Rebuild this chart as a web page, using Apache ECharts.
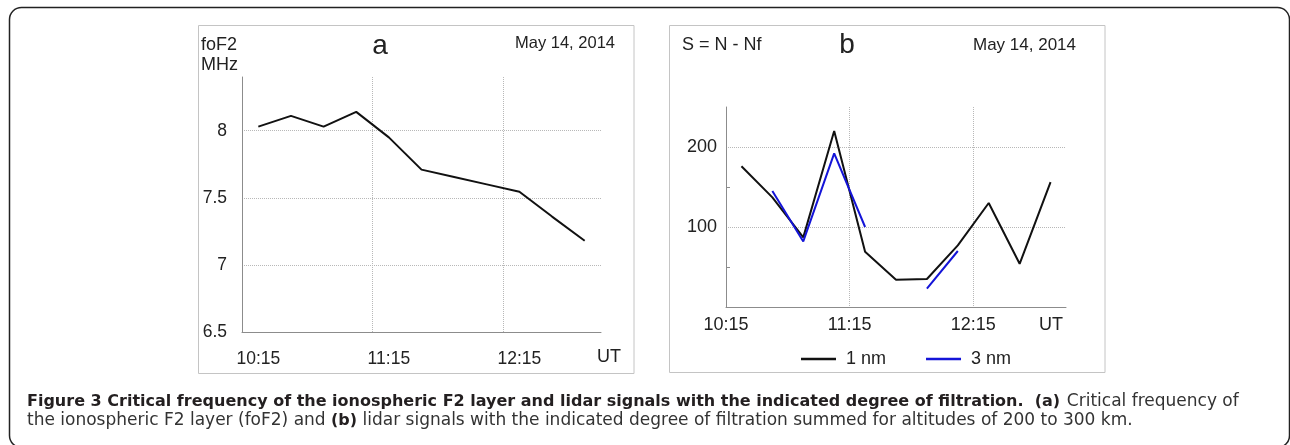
<!DOCTYPE html>
<html>
<head>
<meta charset="utf-8">
<script src="https://cdn.jsdelivr.net/npm/echarts@6/dist/echarts.min.js"></script>
<title>Figure 3</title>
<style>
  html, body { margin: 0; padding: 0; background: #fff; }
  #main { width: 1290px; height: 445px; }
</style>
</head>
<body>
<div id="main"></div>
<script type="text/javascript">
// time points (UT), 15 min apart
var times = ['10:15', '10:30', '10:45', '11:00', '11:15', '11:30', '11:45', '12:00', '12:15', '12:30', '12:45'];
// panel a: critical frequency foF2, MHz
var foF2 = [8.03, 8.11, 8.03, 8.14, 7.95, 7.71, 7.655, 7.60, 7.545, 7.36, 7.18];
// panel b: lidar signal S = N - Nf
var s1nm = [176, 137, 87, 220, 69, 34, 35, 77, 130, 54, 156];
var s3nm = [null, 145, 82, 192, 100, null, 23, 70, null, null, null];
// tick labels that are printed
var xLabels = ['10:15', '11:15', '12:15'];
var yLabelsA = [6.5, 7, 7.5, 8];
var yLabelsB = [100, 200];

var axisCol = '#8c8c8c';
var txtCol = '#222';
var font = 'Liberation Sans, Arial, sans-serif';
var capFont = 'DejaVu Sans';

function gridLine() {
  return { show: true, showMinLine: false, showMaxLine: false,
    lineStyle: { color: '#b8b8b8', type: 'dotted', width: 1 } };
}
function xLabelFmt(v) { return xLabels.indexOf(v) >= 0 ? v : ''; }

var capRich = {
  b: { fontFamily: capFont, fontWeight: 'bold', fontSize: 16, fill: '#231f20' },
  r: { fontFamily: capFont, fontSize: 17, fill: '#333' }
};

var myChart = echarts.init(document.getElementById('main'));
myChart.setOption({
  animation: false,
  backgroundColor: '#fff',
  textStyle: { fontFamily: font, color: txtCol },
  grid: [
    { left: 242, top: 77, width: 359, height: 255 },
    { left: 726, top: 107, width: 340, height: 200 }
  ],
  xAxis: [
    {
      gridIndex: 0, type: 'category', data: times, boundaryGap: true,
      axisLine: { lineStyle: { color: axisCol, width: 1 } },
      axisTick: { inside: true, interval: 1, length: 5, lineStyle: { color: axisCol } },
      axisLabel: { interval: 3, margin: 18, fontSize: 17.5, color: txtCol, fontFamily: font, formatter: xLabelFmt },
      splitLine: Object.assign(gridLine(), { interval: 3 })
    },
    {
      gridIndex: 1, type: 'category', data: times, boundaryGap: true,
      axisLine: { lineStyle: { color: axisCol, width: 1 } },
      axisTick: { inside: true, interval: 1, length: 5, lineStyle: { color: axisCol } },
      axisLabel: { interval: 3, margin: 9, fontSize: 18, color: txtCol, fontFamily: font,
        padding: [0, 31, 0, 0], formatter: xLabelFmt },
      splitLine: Object.assign(gridLine(), { interval: 3 })
    }
  ],
  yAxis: [
    {
      gridIndex: 0, type: 'value', min: 6.5, max: 8.4, interval: 0.5,
      axisLine: { show: true, lineStyle: { color: axisCol, width: 1 } },
      axisTick: { show: false },
      axisLabel: { showMaxLabel: false, margin: 15, fontSize: 17.5, color: txtCol, fontFamily: font,
        formatter: function (v) { return yLabelsA.indexOf(v) >= 0 ? String(v) : ''; } },
      splitLine: gridLine()
    },
    {
      gridIndex: 1, type: 'value', min: 0, max: 250, interval: 100,
      axisLine: { show: true, lineStyle: { color: axisCol, width: 1 } },
      axisTick: { show: false, inside: true },
      minorTick: { show: true, splitNumber: 2, length: 4, lineStyle: { color: axisCol } },
      axisLabel: { showMaxLabel: false, margin: 9, fontSize: 18, color: txtCol, fontFamily: font,
        formatter: function (v) { return yLabelsB.indexOf(v) >= 0 ? String(v) : ''; } },
      splitLine: gridLine()
    }
  ],
  legend: {
    left: 801, top: 350, padding: 0, icon: 'rect', itemWidth: 35, itemHeight: 2.5, itemGap: 40,
    data: ['1 nm', '3 nm'],
    textStyle: { fontSize: 18, color: txtCol, fontFamily: font, padding: [0, 0, 0, 5] }
  },
  series: [
    {
      name: 'foF2', type: 'line', xAxisIndex: 0, yAxisIndex: 0, data: foF2,
      symbol: 'none', lineStyle: { color: '#111', width: 2 }, itemStyle: { color: '#111' }
    },
    {
      name: '1 nm', type: 'line', xAxisIndex: 1, yAxisIndex: 1, data: s1nm,
      symbol: 'none', lineStyle: { color: '#111', width: 2 }, itemStyle: { color: '#111' }
    },
    {
      name: '3 nm', type: 'line', xAxisIndex: 1, yAxisIndex: 1, data: s3nm, connectNulls: false,
      symbol: 'none', lineStyle: { color: '#1414d8', width: 2 }, itemStyle: { color: '#1414d8' }
    }
  ],
  graphic: [
    // outer figure frame and panel frames
    { type: 'rect', silent: true, shape: { x: 9.5, y: 7.5, width: 1280, height: 440, r: 12 },
      style: { fill: 'none', stroke: '#222', lineWidth: 1.5 } },
    { type: 'rect', silent: true, shape: { x: 198.5, y: 25.5, width: 435.5, height: 348 },
      style: { fill: 'none', stroke: '#c4c4c4', lineWidth: 1 } },
    { type: 'rect', silent: true, shape: { x: 669.5, y: 25.5, width: 435.5, height: 347 },
      style: { fill: 'none', stroke: '#c4c4c4', lineWidth: 1 } },
    // panel a texts
    { type: 'text', x: 201, y: 45, style: { text: 'foF2', fontSize: 18, fontFamily: font, fill: txtCol, verticalAlign: 'middle' } },
    { type: 'text', x: 201, y: 65, style: { text: 'MHz', fontSize: 18, fontFamily: font, fill: txtCol, verticalAlign: 'middle' } },
    { type: 'text', x: 380, y: 46, style: { text: 'a', fontSize: 28, fontFamily: font, fill: txtCol, align: 'center', verticalAlign: 'middle' } },
    { type: 'text', x: 515, y: 43, style: { text: 'May 14, 2014', fontSize: 16.5, fontFamily: font, fill: txtCol, verticalAlign: 'middle' } },
    { type: 'text', x: 609, y: 357, style: { text: 'UT', fontSize: 18, fontFamily: font, fill: txtCol, align: 'center', verticalAlign: 'middle' } },
    // panel b texts
    { type: 'text', x: 682, y: 45, style: { text: 'S = N - Nf', fontSize: 18, fontFamily: font, fill: txtCol, verticalAlign: 'middle' } },
    { type: 'text', x: 847, y: 45, style: { text: 'b', fontSize: 28, fontFamily: font, fill: txtCol, align: 'center', verticalAlign: 'middle' } },
    { type: 'text', x: 973, y: 45, style: { text: 'May 14, 2014', fontSize: 17, fontFamily: font, fill: txtCol, verticalAlign: 'middle' } },
    { type: 'text', x: 1051, y: 325, style: { text: 'UT', fontSize: 18, fontFamily: font, fill: txtCol, align: 'center', verticalAlign: 'middle' } },
    // caption
    { type: 'text', x: 27, y: 402, style: {
        text: '{b|Figure 3 Critical frequency of the ionospheric F2 layer and lidar signals with the indicated degree of filtration.  (a)}  {r|Critical frequency of}',
        verticalAlign: 'middle', rich: capRich } },
    { type: 'text', x: 27, y: 420.5, style: {
        text: '{r|the ionospheric F2 layer (foF2) and }{b|(b)}{r| lidar signals with the indicated degree of filtration summed for altitudes of 200 to 300 km.}',
        verticalAlign: 'middle', rich: capRich } }
  ]
});
</script>
</body>
</html>
